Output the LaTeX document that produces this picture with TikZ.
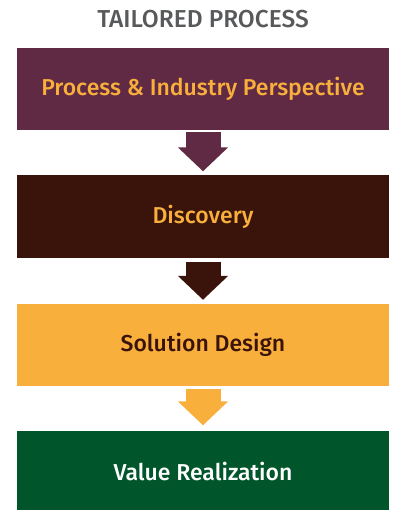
\documentclass[tikz,border=0pt]{standalone}
\usepackage{fontspec}
\setmainfont{Fira Sans}[UprightFont={* Medium}]
\usetikzlibrary{arrows.meta, positioning}

\definecolor{plum}{HTML}{612A44}
\definecolor{umber}{HTML}{3A140A}
\definecolor{amber}{HTML}{F9AF3B}
\definecolor{forest}{HTML}{00552B}
\definecolor{slate}{HTML}{58595B}

\begin{document}
\begin{tikzpicture}[x=1pt, y=-1pt,
  stage/.style={minimum width=372pt, minimum height=82pt, inner sep=0pt,
    font=\fontsize{23}{26}\selectfont},
  flow/.style={draw=#1, line width=35pt, -{Triangle[width=49pt,length=24pt]}}]
\clip (0,0) rectangle (395,510);
% Title
\node[text=slate, font=\fontsize{24.5}{28}\selectfont] (title) at (203,19) {TAILORED PROCESS};
% The four stages
\node[stage, fill=plum, text=amber] (persp) at (203,89) {Process \& Industry Perspective};
\node[stage, fill=umber, text=amber] (disc) at (203,216.5) {Discovery};
\node[stage, fill=amber, text=umber] (design) at (203,345) {Solution Design};
\node[stage, fill=forest, text=white] (value) at (203,471.5) {Value Realization};
% Block arrows between stages
\draw[flow=plum] ([yshift=-2pt]persp.south) -- ([yshift=4pt]disc.north);
\draw[flow=umber] ([yshift=-4pt]disc.south) -- ([yshift=4pt]design.north);
\draw[flow=amber] ([yshift=-3pt]design.south) -- ([yshift=5pt]value.north);
\end{tikzpicture}
\end{document}
